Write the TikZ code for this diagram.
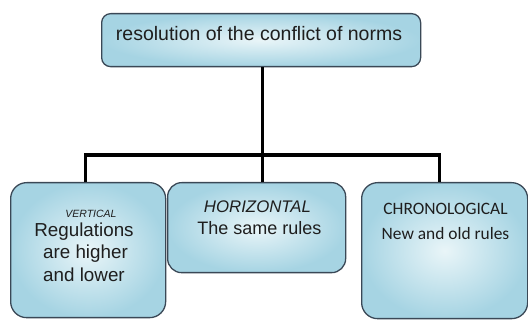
\documentclass[tikz,border=0pt]{standalone}
\usepackage{fontspec}
\setmainfont{Liberation Sans}
\newfontfamily\calib{Carlito}
\definecolor{ink}{HTML}{1E1E1E}
\definecolor{edge}{HTML}{3A4856}
\definecolor{paleblue}{HTML}{E9F5F8}
\definecolor{skyblue}{HTML}{A6D4E3}
\tikzset{
  card/.style={draw=edge, line width=1.3pt, rounded corners=#1,
    inner color=paleblue, outer color=skyblue, anchor=north west, inner sep=0pt},
  conn/.style={line width=3.2pt, black},
  lbl/.style={text=ink, inner sep=0pt, anchor=base}
}
\begin{document}
\begin{tikzpicture}[x=1pt,y=1pt]
\useasboundingbox (0,0) rectangle (528,-320);

% boxes
\node[card=9pt,  minimum width=319pt, minimum height=53pt]  (top) at (101,-13) {};
\node[card=16pt, minimum width=155pt, minimum height=135pt] (vl)  at (10,-182) {};
\node[card=14pt, minimum width=178pt, minimum height=90pt]  (hz)  at (167,-182) {};
\node[card=16pt, minimum width=166pt, minimum height=136pt] (ch)  at (361,-182) {};

% connectors
\coordinate (bus) at (262,-155);
\draw[conn] ([xshift=1.5pt]top.south) -- ([xshift=1.5pt]top.south |- bus);
\draw[conn] ([xshift=-2.5pt]vl.north) |- ([xshift=-5pt]ch.north |- bus) -- ([xshift=-5pt]ch.north);
\draw[conn] ([xshift=6pt]hz.north |- bus) -- ([xshift=6pt]hz.north);

% labels
\node[lbl, font=\fontsize{19.5}{22}\selectfont] (ttl) at (259,-41) {resolution of the conflict of norms};

\node[lbl, font=\fontsize{10.5}{12}\selectfont\itshape] (v0) at (91,-218) {VERTICAL};
\node[lbl, font=\fontsize{18.8}{22}\selectfont] (v1) at (84,-237) {Regulations};
\node[lbl, font=\fontsize{18.8}{22}\selectfont] (v2) at (85.5,-259) {are higher};
\node[lbl, font=\fontsize{18.8}{22}\selectfont] (v3) at (84,-282) {and lower};

\node[lbl, font=\fontsize{16.8}{19}\selectfont\itshape] (h0) at (257.5,-213) {HORIZONTAL};
\node[lbl, font=\fontsize{18}{21}\selectfont] (h1) at (259.5,-235) {The same rules};

\node[lbl, font=\fontsize{17.4}{20}\selectfont\calib] (c0) at (445.5,-215) {CHRONOLOGICAL};
\node[lbl, font=\fontsize{17.4}{20}\selectfont\calib] (c1) at (445.5,-240) {New and old rules};
\end{tikzpicture}
\end{document}
